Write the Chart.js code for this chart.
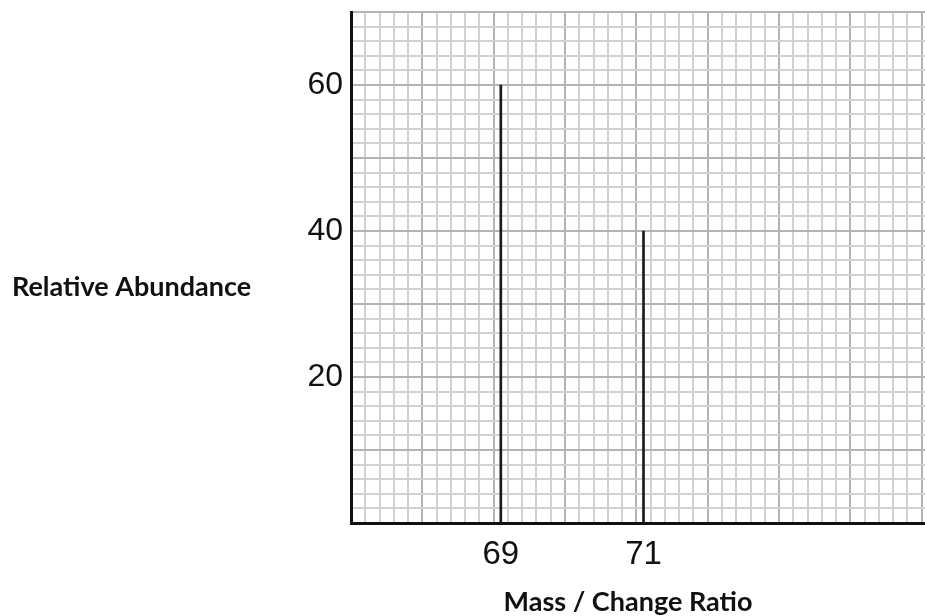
<!DOCTYPE html>
<html>
<head>
<meta charset="utf-8">
<script src="https://cdn.jsdelivr.net/npm/chart.js@4"></script>
<style>
  html, body { margin: 0; padding: 0; background: #fff; overflow: hidden; }
  #wrap { width: 925px; height: 616px; overflow: hidden; position: relative; }
</style>
</head>
<body>
<div id="wrap"><canvas id="spectrum" width="936" height="616"></canvas></div>
<script>
// data
const masses = [69, 71];
const abundances = [60, 40];
const xTickLabels = [69, 71];
const yTickLabels = [20, 40, 60];
const yTitle = 'Relative Abundance';
const xTitle = 'Mass / Change Ratio';

const MINOR = '#d2d2d2';
const MAJOR = '#b4b4b4';

// grid colour: darker line on every whole unit (x) / every 10 (y)
function xGridColor(c) {
    if (!c.tick) return MINOR;
    return Math.abs(c.tick.value - Math.round(c.tick.value)) < 1e-6 ? MAJOR : MINOR;
}
function yGridColor(c) {
    if (!c.tick) return MINOR;
    return Math.round(c.tick.value) % 10 === 0 ? MAJOR : MINOR;
}

// axis titles drawn horizontally like in the picture
const axisTitles = {
    id: 'axisTitles',
    afterDraw(chart) {
        const c = chart.ctx;
        c.save();
        c.fillStyle = '#111';
        c.font = 'bold 27px Lato';
        c.textBaseline = 'middle';
        c.textAlign = 'left';
        c.fillText(yTitle, 12, 287);
        c.textAlign = 'center';
        c.fillText(xTitle, 628, 602);
        c.restore();
    }
};

const ctx = document.getElementById('spectrum').getContext('2d');
new Chart(ctx, {
    type: 'bar',
    data: {
        datasets: [{
            data: masses.map((m, i) => ({ x: m, y: abundances[i] })),
            backgroundColor: '#1a1a1a',
            borderWidth: 0,
            barThickness: 2
        }]
    },
    options: {
        responsive: false,
        animation: false,
        layout: { padding: { top: 12, right: 0, left: 0, bottom: 0 } },
        plugins: { legend: { display: false }, tooltip: { enabled: false } },
        scales: {
            x: {
                type: 'linear',
                min: 67,
                max: 75,
                afterFit(scale) {
                    scale.height = 93;
                    scale.paddingLeft = 0;
                    scale.paddingRight = 0;
                },
                border: { color: '#111', width: 3 },
                grid: { drawTicks: false, lineWidth: 2, color: xGridColor },
                ticks: {
                    stepSize: 0.2,
                    autoSkip: false,
                    maxRotation: 0,
                    padding: 12,
                    color: '#111',
                    font: { family: 'Liberation Sans', size: 33 },
                    callback: v => xTickLabels.includes(Math.round(v * 10) / 10) ? String(Math.round(v)) : ''
                }
            },
            y: {
                min: 0,
                max: 70,
                afterFit(scale) {
                    scale.width = 351;
                    scale.paddingTop = 0;
                    scale.paddingBottom = 0;
                },
                border: { color: '#111', width: 3 },
                grid: { drawTicks: false, lineWidth: 2, color: yGridColor },
                ticks: {
                    stepSize: 2,
                    autoSkip: false,
                    padding: 8,
                    color: '#111',
                    font: { family: 'Liberation Sans', size: 32 },
                    callback: v => yTickLabels.includes(Math.round(v)) ? String(Math.round(v)) : ''
                }
            }
        }
    },
    plugins: [axisTitles]
});
</script>
</body>
</html>
